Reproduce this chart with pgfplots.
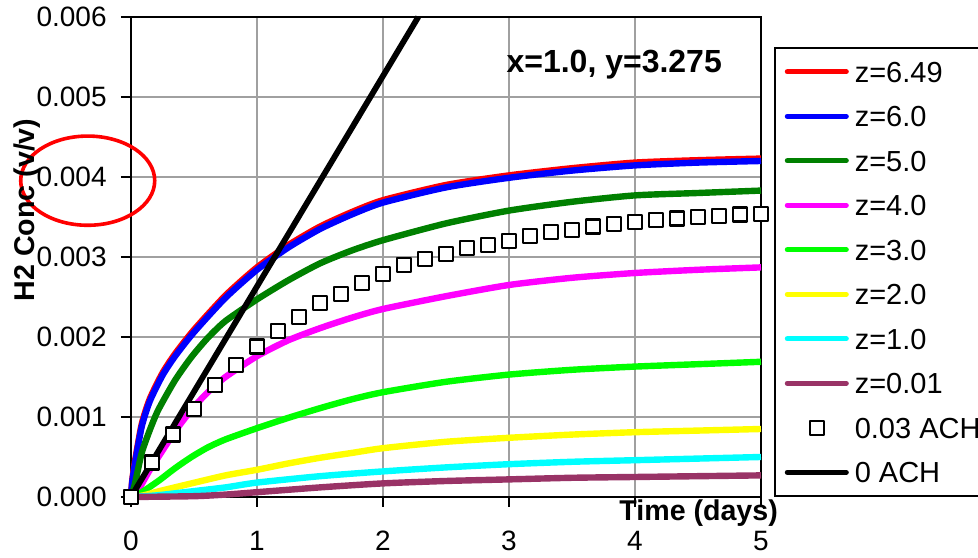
\documentclass[border=0pt]{standalone}
\usepackage{fontspec}
\setmainfont{Liberation Sans}
\usepackage{pgfplots}
\pgfplotsset{compat=1.18}
\definecolor{plum}{HTML}{993366}
\definecolor{gridgray}{HTML}{A0A0A0}
\definecolor{darkgreen}{HTML}{008000}
\definecolor{pureblue}{HTML}{0000FF}
\definecolor{purered}{HTML}{FF0000}
\definecolor{puremagenta}{HTML}{FF00FF}
\definecolor{puregreen}{HTML}{00FF00}
\definecolor{pureyellow}{HTML}{FFFF00}
\definecolor{purecyan}{HTML}{00FFFF}

\begin{document}
\begin{tikzpicture}
\begin{axis}[
  scale only axis, width=315pt, height=240pt,
  xmin=0, xmax=5, ymin=0, ymax=0.006,
  xtick={0,1,2,3,4,5}, xticklabels={0,1,2,3,4,5},
  ytick={0,0.001,0.002,0.003,0.004,0.005,0.006},
  yticklabels={0.000,0.001,0.002,0.003,0.004,0.005,0.006},
  scaled y ticks=false,
  /pgf/number format/assume math mode=true,
  xtick pos=bottom, ytick pos=left,
  tick align=outside, major tick length=5pt,
  tick style={black, line width=0.9pt},
  axis line style={black, line width=1pt},
  grid=major, major grid style={gridgray, line width=0.7pt},
  ticklabel style={font=\fontsize{14}{16}\selectfont},
  yticklabel style={anchor=east, inner sep=0pt, xshift=-7pt},
  xticklabel style={anchor=north, inner sep=0pt, yshift=-12pt},
  xlabel={Time (days)}, ylabel={H2 Conc (v/v)},
  label style={font=\bfseries\fontsize{14.3}{16}\selectfont},
  xlabel style={at={(axis description cs:0.901,-0.0329)}, anchor=center},
  ylabel style={at={(axis description cs:-0.1643,0.598)}, anchor=center},
  clip=false,
  every axis plot/.append style={line join=round},
  legend cell align=left,
  legend style={at={(1,1)}, anchor=north west, xshift=6.5pt, yshift=-15pt,
    draw=black, line width=0.8pt, inner xsep=1pt, inner ysep=6.8pt,
    font=\fontsize{14.5}{17}\selectfont, row sep=11.85pt,
    nodes={inner sep=0pt, text height=10.4pt, text depth=0pt},
    /tikz/every odd column/.append style={column sep=3pt}},
  legend image code/.code={\path[draw=none] (0pt,0pt) -- (36pt,0pt);
    \draw[#1, line cap=round, line width=2.5pt] (5.25pt,0pt) -- (34.75pt,0pt);},
]

% z = 6.49
\addplot[purered, line width=3.2pt, smooth, tension=0.4] coordinates {
 (0,0) (0.01,0.00021) (0.032,0.00045) (0.085,0.00091) (0.15,0.00123)
 (0.25,0.00155) (0.35,0.00179) (0.5,0.00209) (0.75,0.00252) (1,0.00287)
 (1.25,0.00315) (1.5,0.00338) (1.75,0.00356) (2,0.00371) (2.5,0.00390)
 (3,0.00402) (3.5,0.00411) (4,0.00418) (4.5,0.00421) (5,0.00423)};
\addlegendentry{z=6.49}

% z = 6.0
\addplot[pureblue, line width=3.2pt, smooth, tension=0.4] coordinates {
 (0,0) (0.01,0.00019) (0.032,0.00042) (0.085,0.00088) (0.15,0.00120)
 (0.25,0.00152) (0.35,0.00176) (0.5,0.00206) (0.75,0.00249) (1,0.00284)
 (1.25,0.00312) (1.5,0.00335) (1.75,0.00353) (2,0.00368) (2.5,0.00387)
 (3,0.00399) (3.5,0.00408) (4,0.004145) (4.5,0.00418) (5,0.00420)};
\addlegendentry{z=6.0}

% z = 5.0
\addplot[darkgreen, line width=3.2pt, smooth, tension=0.4] coordinates {
 (0,0) (0.032,0.00017) (0.085,0.00055) (0.15,0.00084) (0.217,0.00109)
 (0.35,0.00146) (0.48,0.00175) (0.61,0.00199) (0.75,0.00220) (1,0.00247)
 (1.25,0.00271) (1.5,0.00292) (1.75,0.00308) (2,0.00321) (2.5,0.00342)
 (3,0.00358) (3.5,0.00369) (4,0.00377) (4.5,0.00380) (5,0.00383)};
\addlegendentry{z=5.0}

% z = 4.0
\addplot[puremagenta, line width=3.2pt, smooth, tension=0.4] coordinates {
 (0,0) (0.058,0.00009) (0.15,0.00034) (0.217,0.00050) (0.35,0.00082)
 (0.48,0.00109) (0.61,0.00131) (0.75,0.00150) (1,0.00176) (1.25,0.00196)
 (1.5,0.00211) (1.75,0.00224) (2,0.00235) (2.5,0.00251) (3,0.00265)
 (3.5,0.00274) (4,0.00280) (4.5,0.00284) (5,0.00287)};
\addlegendentry{z=4.0}

% z = 3.0
\addplot[puregreen, line width=3.2pt, smooth, tension=0.4] coordinates {
 (0,0) (0.085,0.00006) (0.217,0.00020) (0.35,0.00036) (0.48,0.00050)
 (0.61,0.00062) (0.75,0.00072) (1,0.00086) (1.25,0.00099) (1.5,0.00111)
 (1.75,0.00122) (2,0.00131) (2.5,0.00144) (3,0.00153) (3.5,0.00159)
 (4,0.00163) (4.5,0.00166) (5,0.00169)};
\addlegendentry{z=3.0}

% z = 2.0
\addplot[pureyellow, line width=3.2pt, smooth, tension=0.4] coordinates {
 (0,0) (0.1,0.00002) (0.217,0.00007) (0.48,0.00017) (0.75,0.00027)
 (1,0.00034) (1.25,0.00042) (1.5,0.00049) (1.75,0.00055) (2,0.00061)
 (2.5,0.00069) (3,0.00074) (3.5,0.00078) (4,0.00081) (4.5,0.00083) (5,0.00085)};
\addlegendentry{z=2.0}

% z = 1.0
\addplot[purecyan, line width=3.2pt, smooth, tension=0.4] coordinates {
 (0,0) (0.2,0.00002) (0.48,0.00007) (0.75,0.00012) (1,0.00018)
 (1.5,0.00026) (2,0.00032) (2.5,0.00037) (3,0.00041) (3.5,0.00044)
 (4,0.00046) (4.5,0.00048) (5,0.00050)};
\addlegendentry{z=1.0}

% z = 0.01
\addplot[plum, line width=3.2pt, smooth, tension=0.4] coordinates {
 (0,0) (0.5,0.00001) (0.75,0.00003) (1,0.00006) (1.5,0.00012) (2,0.00017)
 (2.5,0.00020) (3,0.00022) (3.5,0.00024) (4,0.00025) (4.5,0.00026) (5,0.00027)};
\addlegendentry{z=0.01}

% 0.03 air changes per hour, sampled every 4 hours
\addplot[only marks, mark=square*, mark size=3.5pt,
  mark options={draw=black, fill=white, line width=1.1pt},
  legend image code/.code={\path[draw=none] (0pt,0pt) -- (36pt,0pt);
    \draw[black, line width=1.1pt, fill=white] (16.5pt,-3.5pt) rectangle (23.5pt,3.5pt);}]
 coordinates {
 (0,0) (0.1667,0.00043) (0.3333,0.00078) (0.5,0.00110) (0.6667,0.00140)
 (0.8333,0.00165) (1,0.00188) (1.1667,0.00207) (1.3333,0.00225) (1.5,0.00242)
 (1.6667,0.00254) (1.8333,0.00267) (2,0.00279) (2.1667,0.00290) (2.3333,0.00297)
 (2.5,0.00304) (2.6667,0.00311) (2.8333,0.00315) (3,0.00320) (3.1667,0.00326)
 (3.3333,0.00331) (3.5,0.00334) (3.6667,0.00338) (3.8333,0.00341) (4,0.00344)
 (4.1667,0.00346) (4.3333,0.00348) (4.5,0.00350) (4.6667,0.00351) (4.8333,0.00353)
 (5,0.00354)};
\addlegendentry{0.03 ACH}

% no ventilation
\addplot[black, line width=2.9pt] coordinates {(0,0) (2.28,0.006)};
\addlegendentry{0 ACH}

\node[font=\bfseries\fontsize{16}{18}\selectfont, anchor=base]
  at (rel axis cs:0.767,0.884) {x=1.0, y=3.275};
\draw[purered, line width=1.8pt] (rel axis cs:-0.0687,0.659)
  ellipse [x radius=33.5pt, y radius=22.3pt];
\end{axis}
\pgfresetboundingbox
\path[use as bounding box]
  ([xshift=-65.5pt,yshift=-30.5pt]current axis.south west) rectangle
  ([xshift=108.5pt,yshift=8.5pt]current axis.north east);
\end{tikzpicture}
\end{document}
